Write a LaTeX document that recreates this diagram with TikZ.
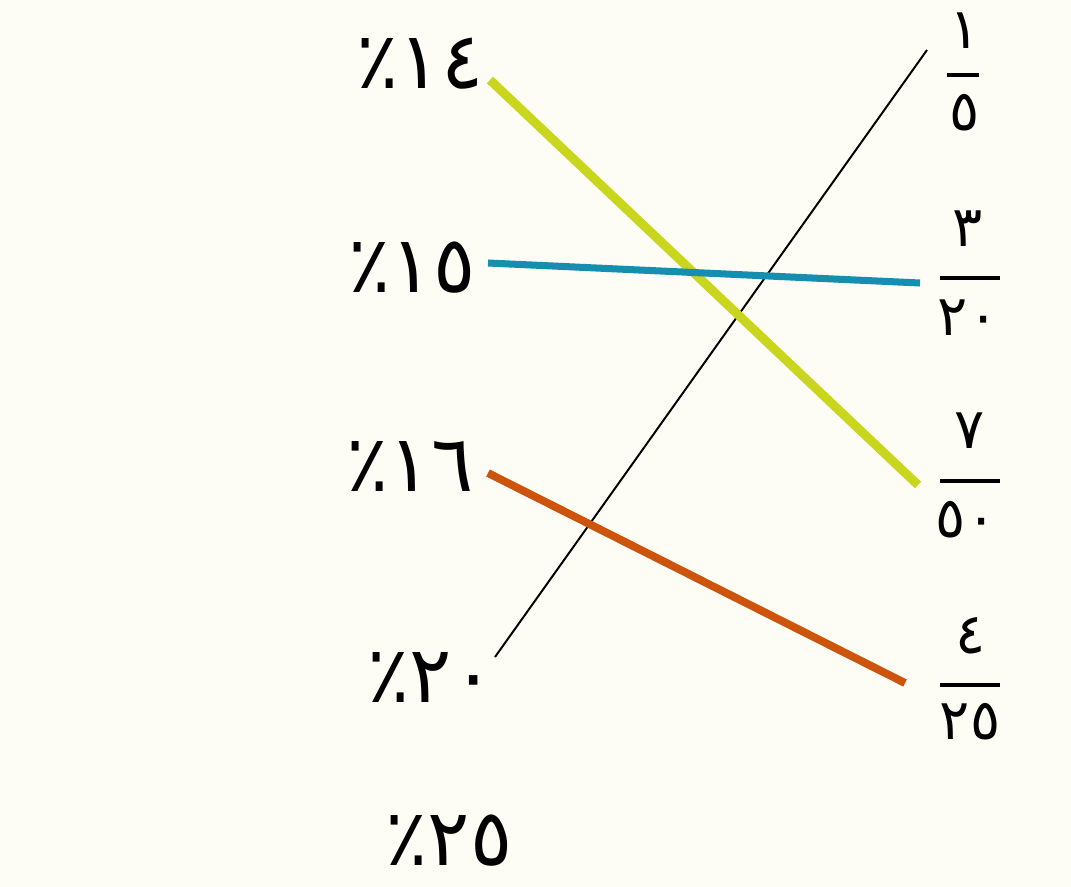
\documentclass[tikz,border=0pt]{standalone}
\usepackage{fontspec}
\newfontfamily\arabicfont[Script=Arabic]{DejaVu Sans}
\TeXXeTstate=1
\usetikzlibrary{positioning, calc}
\definecolor{bgCream}{RGB}{253,253,245}
\definecolor{lineLime}{RGB}{202,214,30}
\definecolor{lineTeal}{RGB}{22,142,176}
\definecolor{lineRust}{RGB}{204,84,12}
\tikzset{
  pctLabel/.style={inner sep=0pt, font=\arabicfont\fontsize{56}{62}\selectfont},
  fracDigit/.style={inner sep=0pt, font=\arabicfont\fontsize{40}{46}\selectfont},
  fracBar/.style={line width=3.2pt},
  matchLine/.style={line width=#1, line cap=butt},
}

\begin{document}
\begin{tikzpicture}[x=0.025cm, y=-0.025cm]
\fill[bgCream] (0,0) rectangle (1071,887);
\useasboundingbox (0,0) rectangle (1071,887);

% left column: percentages
\node (p14) [pctLabel] at (420,64) {\beginR١٤٪\endR};
\node (p15) [pctLabel] at (412,268) {\beginR١٥٪\endR};
\node (p16) [pctLabel] at (410,467) {\beginR١٦٪\endR};
\node (p20) [pctLabel] at (431,677) {\beginR٢٠٪\endR};
\node (p25) [pctLabel, text depth=0pt] at (449,840) {\beginR٢٥٪\endR};

% right column: fractions
\node (n1) [fracDigit] at (965,31) {١};
\node (d1) [fracDigit] at (965,113) {٥};
\draw [fracBar] (947,75) -- (979,75);
\node (n2) [fracDigit] at (968,229) {٣};
\node (d2) [fracDigit] at (968,318) {٢٠};
\draw [fracBar] (940,278) -- (1000,278);
\node (n3) [fracDigit] at (970,431) {٧};
\node (d3) [fracDigit] at (966,520) {٥٠};
\draw [fracBar] (940,481) -- (1000,481);
\node (n4) [fracDigit] at (971,636) {٤};
\node (d4) [fracDigit] at (970,722) {٢٥};
\draw [fracBar] (940,685) -- (1000,685);

% line ends
\coordinate (p14e) at (490,80);
\coordinate (p15e) at (488,263);
\coordinate (p16e) at (488,473);
\coordinate (p20e) at (495,657);
\coordinate (f1e) at (927,50);
\coordinate (f2e) at (920,283);
\coordinate (f3e) at (918,485);
\coordinate (f4e) at (905,683);

\draw [matchLine=1.4pt, black] (p20e) -- (f1e);
\draw [matchLine=6.4pt, lineLime] (p14e) -- (f3e);
\draw [matchLine=5pt, lineTeal] (p15e) -- (f2e);
\draw [matchLine=5.6pt, lineRust] (p16e) -- (f4e);
\end{tikzpicture}
\end{document}
